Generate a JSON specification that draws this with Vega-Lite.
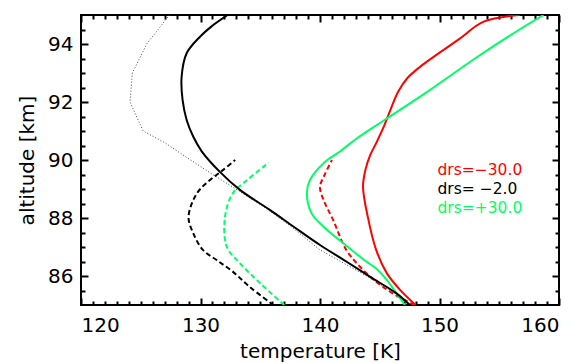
{
  "$schema": "https://vega.github.io/schema/vega-lite/v6.json",
  "width": 478,
  "height": 290,
  "autosize": {"type": "none"},
  "padding": {"left": 81, "top": 15, "right": 21, "bottom": 58},
  "config": {
    "view": {"stroke": "black", "strokeWidth": 2},
    "font": "DejaVu Sans",
    "axis": {"grid": false, "domain": false, "tickColor": "black", "tickWidth": 2, "labelColor": "black", "titleColor": "black", "labelFont": "DejaVu Sans", "titleFont": "DejaVu Sans", "titleFontWeight": "normal", "labelFontSize": 20, "titleFontSize": 20}
  },
  "data": {"values": [
    {"drs": "drs=−30.0", "s": "solid", "alt": 85.0, "T": 148.0},
    {"drs": "drs=−30.0", "s": "solid", "alt": 85.52, "T": 146.7},
    {"drs": "drs=−30.0", "s": "solid", "alt": 86.09, "T": 145.6},
    {"drs": "drs=−30.0", "s": "solid", "alt": 86.9, "T": 144.7},
    {"drs": "drs=−30.0", "s": "solid", "alt": 88.04, "T": 144.0},
    {"drs": "drs=−30.0", "s": "solid", "alt": 89.08, "T": 143.6},
    {"drs": "drs=−30.0", "s": "solid", "alt": 89.66, "T": 143.8},
    {"drs": "drs=−30.0", "s": "solid", "alt": 90.17, "T": 144.2},
    {"drs": "drs=−30.0", "s": "solid", "alt": 90.58, "T": 144.7},
    {"drs": "drs=−30.0", "s": "solid", "alt": 91.21, "T": 145.4},
    {"drs": "drs=−30.0", "s": "solid", "alt": 91.84, "T": 146.0},
    {"drs": "drs=−30.0", "s": "solid", "alt": 92.36, "T": 146.55},
    {"drs": "drs=−30.0", "s": "solid", "alt": 92.82, "T": 147.3},
    {"drs": "drs=−30.0", "s": "solid", "alt": 93.22, "T": 148.4},
    {"drs": "drs=−30.0", "s": "solid", "alt": 94.14, "T": 151.55},
    {"drs": "drs=−30.0", "s": "solid", "alt": 94.77, "T": 153.7},
    {"drs": "drs=−30.0", "s": "solid", "alt": 95.0, "T": 156.7},

    {"drs": "drs=−30.0", "s": "dashed", "alt": 85.0, "T": 147.9},
    {"drs": "drs=−30.0", "s": "dashed", "alt": 85.4, "T": 146.1},
    {"drs": "drs=−30.0", "s": "dashed", "alt": 85.8, "T": 144.7},
    {"drs": "drs=−30.0", "s": "dashed", "alt": 86.32, "T": 143.35},
    {"drs": "drs=−30.0", "s": "dashed", "alt": 86.9, "T": 142.2},
    {"drs": "drs=−30.0", "s": "dashed", "alt": 87.93, "T": 141.1},
    {"drs": "drs=−30.0", "s": "dashed", "alt": 88.62, "T": 140.3},
    {"drs": "drs=−30.0", "s": "dashed", "alt": 89.08, "T": 140.0},
    {"drs": "drs=−30.0", "s": "dashed", "alt": 89.5, "T": 140.4},
    {"drs": "drs=−30.0", "s": "dashed", "alt": 90.0, "T": 141.0},

    {"drs": "drs= −2.0", "s": "solid", "alt": 85.0, "T": 147.5},
    {"drs": "drs= −2.0", "s": "solid", "alt": 85.4, "T": 146.4},
    {"drs": "drs= −2.0", "s": "solid", "alt": 85.97, "T": 144.2},
    {"drs": "drs= −2.0", "s": "solid", "alt": 86.5, "T": 142.2},
    {"drs": "drs= −2.0", "s": "solid", "alt": 87.07, "T": 140.0},
    {"drs": "drs= −2.0", "s": "solid", "alt": 87.7, "T": 137.8},
    {"drs": "drs= −2.0", "s": "solid", "alt": 88.28, "T": 135.8},
    {"drs": "drs= −2.0", "s": "solid", "alt": 88.97, "T": 133.3},
    {"drs": "drs= −2.0", "s": "solid", "alt": 89.6, "T": 131.6},
    {"drs": "drs= −2.0", "s": "solid", "alt": 90.3, "T": 130.1},
    {"drs": "drs= −2.0", "s": "solid", "alt": 90.8, "T": 129.4},
    {"drs": "drs= −2.0", "s": "solid", "alt": 91.38, "T": 128.84},
    {"drs": "drs= −2.0", "s": "solid", "alt": 92.07, "T": 128.5},
    {"drs": "drs= −2.0", "s": "solid", "alt": 92.87, "T": 128.42},
    {"drs": "drs= −2.0", "s": "solid", "alt": 93.68, "T": 128.84},
    {"drs": "drs= −2.0", "s": "solid", "alt": 94.25, "T": 129.96},
    {"drs": "drs= −2.0", "s": "solid", "alt": 94.6, "T": 130.9},
    {"drs": "drs= −2.0", "s": "solid", "alt": 95.0, "T": 132.27},

    {"drs": "drs= −2.0", "s": "dashed", "alt": 85.0, "T": 136.1},
    {"drs": "drs= −2.0", "s": "dashed", "alt": 85.63, "T": 134.1},
    {"drs": "drs= −2.0", "s": "dashed", "alt": 86.15, "T": 132.7},
    {"drs": "drs= −2.0", "s": "dashed", "alt": 86.55, "T": 131.35},
    {"drs": "drs= −2.0", "s": "dashed", "alt": 86.9, "T": 130.2},
    {"drs": "drs= −2.0", "s": "dashed", "alt": 87.47, "T": 129.4},
    {"drs": "drs= −2.0", "s": "dashed", "alt": 88.04, "T": 129.0},
    {"drs": "drs= −2.0", "s": "dashed", "alt": 88.85, "T": 129.7},
    {"drs": "drs= −2.0", "s": "dashed", "alt": 89.31, "T": 130.8},
    {"drs": "drs= −2.0", "s": "dashed", "alt": 89.66, "T": 131.9},
    {"drs": "drs= −2.0", "s": "dashed", "alt": 90.0, "T": 132.9},

    {"drs": "drs=+30.0", "s": "solid", "alt": 85.0, "T": 147.1},
    {"drs": "drs=+30.0", "s": "solid", "alt": 85.4, "T": 146.4},
    {"drs": "drs=+30.0", "s": "solid", "alt": 85.86, "T": 145.6},
    {"drs": "drs=+30.0", "s": "solid", "alt": 86.26, "T": 144.7},
    {"drs": "drs=+30.0", "s": "solid", "alt": 86.49, "T": 143.9},
    {"drs": "drs=+30.0", "s": "solid", "alt": 87.13, "T": 141.95},
    {"drs": "drs=+30.0", "s": "solid", "alt": 87.7, "T": 140.3},
    {"drs": "drs=+30.0", "s": "solid", "alt": 88.16, "T": 139.3},
    {"drs": "drs=+30.0", "s": "solid", "alt": 88.85, "T": 138.9},
    {"drs": "drs=+30.0", "s": "solid", "alt": 89.31, "T": 139.16},
    {"drs": "drs=+30.0", "s": "solid", "alt": 89.89, "T": 140.3},
    {"drs": "drs=+30.0", "s": "solid", "alt": 90.3, "T": 141.7},
    {"drs": "drs=+30.0", "s": "solid", "alt": 90.75, "T": 143.1},
    {"drs": "drs=+30.0", "s": "solid", "alt": 91.38, "T": 145.4},
    {"drs": "drs=+30.0", "s": "solid", "alt": 92.36, "T": 149.0},
    {"drs": "drs=+30.0", "s": "solid", "alt": 93.51, "T": 153.0},
    {"drs": "drs=+30.0", "s": "solid", "alt": 94.37, "T": 156.2},
    {"drs": "drs=+30.0", "s": "solid", "alt": 95.0, "T": 158.7},

    {"drs": "drs=+30.0", "s": "dashed", "alt": 85.0, "T": 137.0},
    {"drs": "drs=+30.0", "s": "dashed", "alt": 85.75, "T": 135.0},
    {"drs": "drs=+30.0", "s": "dashed", "alt": 86.44, "T": 133.3},
    {"drs": "drs=+30.0", "s": "dashed", "alt": 87.01, "T": 132.2},
    {"drs": "drs=+30.0", "s": "dashed", "alt": 88.04, "T": 132.05},
    {"drs": "drs=+30.0", "s": "dashed", "alt": 88.85, "T": 132.7},
    {"drs": "drs=+30.0", "s": "dashed", "alt": 89.31, "T": 133.9},
    {"drs": "drs=+30.0", "s": "dashed", "alt": 89.91, "T": 135.7},

    {"drs": "ref", "s": "dotted", "alt": 85.0, "T": 147.7},
    {"drs": "ref", "s": "dotted", "alt": 85.4, "T": 146.3},
    {"drs": "ref", "s": "dotted", "alt": 86.0, "T": 143.9},
    {"drs": "ref", "s": "dotted", "alt": 86.9, "T": 140.0},
    {"drs": "ref", "s": "dotted", "alt": 87.7, "T": 137.6},
    {"drs": "ref", "s": "dotted", "alt": 88.3, "T": 135.6},
    {"drs": "ref", "s": "dotted", "alt": 88.91, "T": 133.3},
    {"drs": "ref", "s": "dotted", "alt": 89.48, "T": 131.1},
    {"drs": "ref", "s": "dotted", "alt": 90.1, "T": 128.8},
    {"drs": "ref", "s": "dotted", "alt": 90.6, "T": 127.0},
    {"drs": "ref", "s": "dotted", "alt": 91.0, "T": 125.2},
    {"drs": "ref", "s": "dotted", "alt": 92.0, "T": 124.1},
    {"drs": "ref", "s": "dotted", "alt": 93.0, "T": 124.3},
    {"drs": "ref", "s": "dotted", "alt": 94.0, "T": 125.5},
    {"drs": "ref", "s": "dotted", "alt": 95.0, "T": 127.4}
  ]},
  "resolve": {"axis": {"x": "independent", "y": "independent"}},
  "layer": [
    {
      "transform": [{"filter": "datum.s == 'dotted'"}],
      "mark": {"type": "line", "color": "#444444", "strokeWidth": 1, "strokeDash": [1, 2], "clip": true},
      "encoding": {
        "x": {"field": "T", "type": "quantitative", "scale": {"domain": [120, 160], "nice": false, "zero": false},
              "axis": {"orient": "top", "values": [120, 130, 140, 150, 160], "tickSize": -7, "labels": false, "title": null}},
        "y": {"field": "alt", "type": "quantitative", "scale": {"domain": [85, 95], "nice": false, "zero": false},
              "axis": {"orient": "right", "values": [86, 88, 90, 92, 94], "tickSize": -7, "labels": false, "title": null}},
        "order": {"field": "alt"}
      }
    },
    {
      "transform": [{"filter": "datum.s == 'dashed'"}],
      "mark": {"type": "line", "strokeWidth": 2, "strokeDash": [5, 3], "interpolate": "catmull-rom", "clip": true},
      "encoding": {
        "x": {"field": "T", "type": "quantitative", "scale": {"domain": [120, 160], "nice": false, "zero": false},
              "axis": {"orient": "bottom", "values": [121,122,123,124,125,126,127,128,129,131,132,133,134,135,136,137,138,139,141,142,143,144,145,146,147,148,149,151,152,153,154,155,156,157,158,159], "tickSize": -4, "labels": false, "title": null}},
        "y": {"field": "alt", "type": "quantitative", "scale": {"domain": [85, 95], "nice": false, "zero": false},
              "axis": {"orient": "left", "values": [85.5,86.5,87,87.5,88.5,89,89.5,90.5,91,91.5,92.5,93,93.5,94.5], "tickSize": -4, "labels": false, "title": null}},
        "color": {"field": "drs", "type": "nominal", "scale": {"domain": ["drs=−30.0", "drs= −2.0", "drs=+30.0"], "range": ["#ff0000", "#000000", "#00ff66"]}},
        "order": {"field": "alt"}
      }
    },
    {
      "transform": [{"filter": "datum.s == 'solid' && datum.drs != 'drs= −2.0'"}],
      "mark": {"type": "line", "strokeWidth": 2, "interpolate": "catmull-rom", "clip": true},
      "encoding": {
        "x": {"field": "T", "type": "quantitative", "scale": {"domain": [120, 160], "nice": false, "zero": false},
              "axis": {"orient": "bottom", "values": [120, 130, 140, 150, 160], "tickSize": -7, "labelPadding": 17, "title": "temperature [K]", "titlePadding": 6}},
        "y": {"field": "alt", "type": "quantitative", "scale": {"domain": [85, 95], "nice": false, "zero": false},
              "axis": {"orient": "left", "values": [86, 88, 90, 92, 94], "tickSize": -7, "labelPadding": 15, "title": "altitude [km]", "titlePadding": 10}},
        "color": {"field": "drs", "type": "nominal", "scale": {"domain": ["drs=−30.0", "drs= −2.0", "drs=+30.0"], "range": ["#ff0000", "#000000", "#00ff66"]},
                  "legend": {"orient": "none", "legendX": 341, "legendY": 147, "title": null, "padding": 0, "symbolSize": 0, "symbolStrokeWidth": 0, "symbolOpacity": 0, "labelOffset": 0, "labelFont": "DejaVu Sans", "labelFontSize": 15.5, "rowPadding": 2,
                             "encode": {"labels": {"update": {"fill": {"scale": "color", "field": "value"}}}}}},
        "order": {"field": "alt"}
      }
    },
    {
      "transform": [{"filter": "datum.s == 'solid' && datum.drs == 'drs= −2.0'"}],
      "mark": {"type": "line", "strokeWidth": 2, "interpolate": "catmull-rom", "clip": true},
      "encoding": {
        "x": {"field": "T", "type": "quantitative", "scale": {"domain": [120, 160], "nice": false, "zero": false},
              "axis": {"orient": "top", "values": [121,122,123,124,125,126,127,128,129,131,132,133,134,135,136,137,138,139,141,142,143,144,145,146,147,148,149,151,152,153,154,155,156,157,158,159], "tickSize": -4, "labels": false, "title": null}},
        "y": {"field": "alt", "type": "quantitative", "scale": {"domain": [85, 95], "nice": false, "zero": false},
              "axis": {"orient": "right", "values": [85.5,86.5,87,87.5,88.5,89,89.5,90.5,91,91.5,92.5,93,93.5,94.5], "tickSize": -4, "labels": false, "title": null}},
        "color": {"field": "drs", "type": "nominal", "scale": {"domain": ["drs=−30.0", "drs= −2.0", "drs=+30.0"], "range": ["#ff0000", "#000000", "#00ff66"]}},
        "order": {"field": "alt"}
      }
    }
  ]
}
